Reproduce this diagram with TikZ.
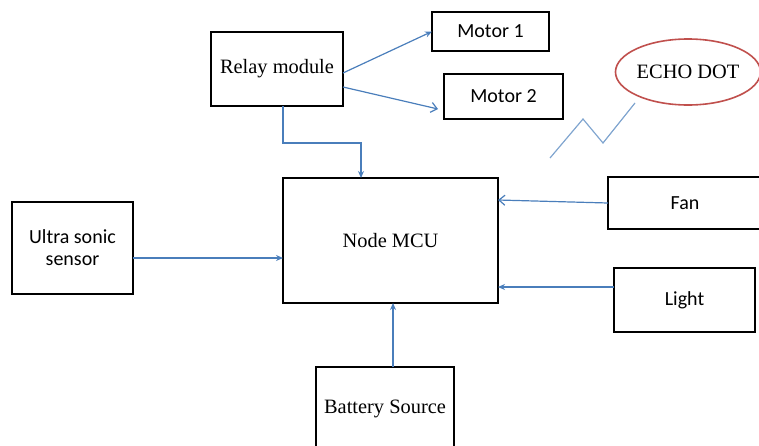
\documentclass[tikz,border=0pt]{standalone}
\usepackage{fontspec}
\setmainfont{Liberation Serif}
\newfontfamily\calibrifont{Carlito}
\usepackage{xcolor}
\usepackage{tikz}
\usetikzlibrary{arrows.meta,calc,positioning,shapes.geometric}

\definecolor{wireblue}{HTML}{4A7EBB}
\definecolor{echored}{HTML}{C0504D}

\begin{document}
\begin{tikzpicture}[
  x=0.5pt,y=-0.5pt,
  box/.style={draw,line width=1.1pt,rectangle,align=center,inner sep=0pt,outer sep=0pt,
    font=\fontsize{10.2}{11}\selectfont},
  sbox/.style={box,font=\calibrifont\fontsize{10}{11}\selectfont},
  arr/.style={draw=wireblue,line width=0.6pt,-{Stealth[length=3.5pt,width=3pt]}},
  arropen/.style={draw=wireblue,line width=0.6pt,-{Straight Barb[length=3pt,width=5pt]}}
]
\useasboundingbox (0,0) rectangle (759,445);
\clip (0,0) rectangle (759,445);
\node[box,minimum width=66pt,minimum height=37pt] (relay) at (277,69) {Relay module};
\node[sbox,minimum width=58.5pt,minimum height=19.5pt] (motor1) at (490.5,31.5) {Motor 1};
\node[sbox,minimum width=59.5pt,minimum height=22.5pt] (motor2) at (503.5,96.5) {Motor 2};
\node[box,minimum width=107.5pt,minimum height=62.5pt] (mcu) at (390.5,240.5) {Node MCU};
\node[sbox,minimum width=60.5pt,minimum height=46pt] (ultra) at (72.5,248) {Ultra sonic\\sensor};
\node[box,minimum width=69pt,minimum height=42pt] (battery) at (385,409) {Battery Source};
\node[sbox,minimum width=77pt,minimum height=26pt] (fan) at (685,203) {Fan};
\node[sbox,minimum width=70.5pt,minimum height=32pt] (light) at (684.5,300) {Light};
\node[ellipse,draw=echored,line width=0.8pt,minimum width=70pt,minimum height=33pt,inner sep=0pt,
  font=\fontsize{10.2}{11}\selectfont] (echo) at (688,72) {ECHO DOT};

% relay outputs
\draw[arr] ([yshift=-2pt]relay.east) -- (motor1.west);
\draw[arropen] ([yshift=-9pt]relay.east) -- ([xshift=-3pt,yshift=-6.25pt]motor2.west);
\coordinate (r1) at (361,143);
\draw[arr] ([xshift=3pt]relay.south) |- (r1) -- (r1 |- mcu.north);

% inputs to the MCU
\path ([yshift=-5pt]ultra.east) coordinate (u1);
\draw[arr] (u1) -- (u1 -| mcu.west);
\path ([xshift=4pt]battery.north) coordinate (b1);
\draw[arr] (b1) -- (b1 |- mcu.south);
\draw[arropen] (fan.west) -- ([yshift=1.5pt]fan.west -| mcu.east);
\path ([yshift=6.5pt]light.west) coordinate (l1);
\draw[arr] (l1) -- (l1 -| mcu.east);

% wireless link
\draw[draw=wireblue!70,line width=0.6pt] (550,158) -- (583,119) -- (603,143) -- (635,103);
\end{tikzpicture}
\end{document}
